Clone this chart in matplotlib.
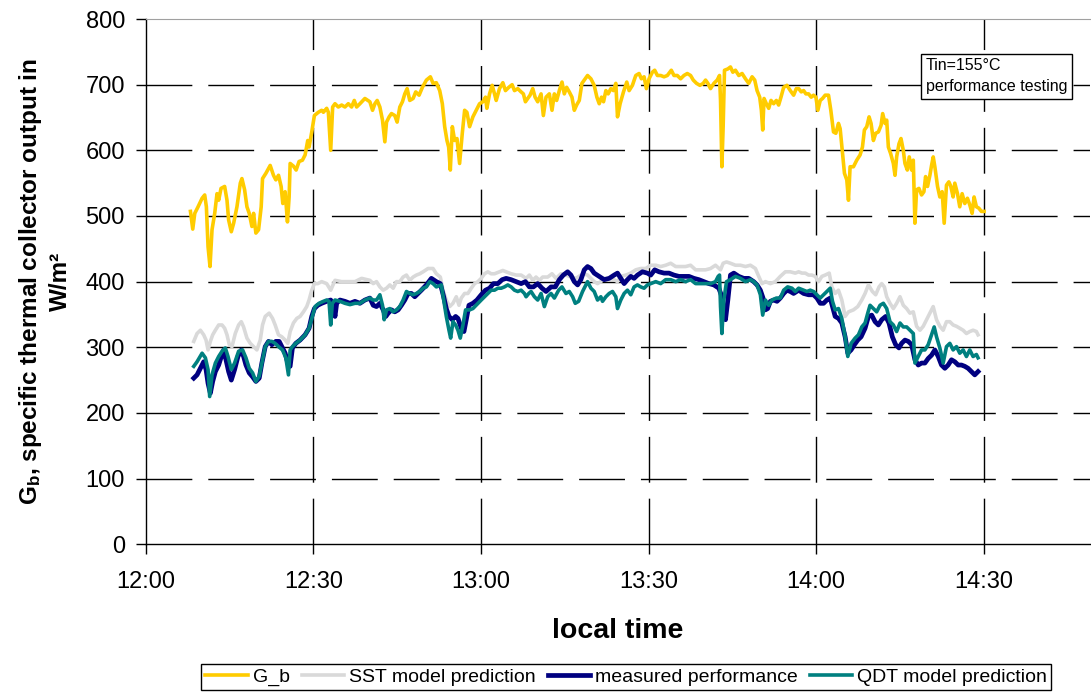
import numpy as np
import matplotlib
matplotlib.use("Agg")
import matplotlib.pyplot as plt

plt.rcParams['font.family'] = ['Liberation Sans', 'DejaVu Sans']
plt.rcParams['mathtext.fontset'] = 'custom'
plt.rcParams['mathtext.rm'] = 'Liberation Sans:bold'
plt.rcParams['mathtext.it'] = 'Liberation Sans:bold'
plt.rcParams['mathtext.default'] = 'rm'
plt.rcParams['lines.scale_dashes'] = False

# time in minutes after 12:00, values in W/m2
t_gb = [8.0, 8.41, 8.77, 9.36, 10.08, 10.55, 10.85, 11.15, 11.50, 11.86,
        12.34, 12.75, 13.05, 13.47, 14.12, 14.54, 14.83, 15.31, 15.73, 16.32,
        16.92, 17.21, 17.69, 18.11, 18.52, 19.0, 19.30, 19.71, 20.19, 20.66,
        20.90, 21.50, 22.27, 22.86, 23.28, 23.76, 24.23, 24.53, 24.95, 25.36,
        25.66, 25.84, 26.43, 26.91, 27.44, 28.04, 28.52, 28.99, 29.23, 29.71,
        30.18, 30.89, 31.49, 31.79, 32.38, 32.68, 33.10, 33.45, 33.87, 34.46,
        35.06, 35.65, 36.25, 36.84, 37.32, 37.74, 38.33, 39.22, 40.11,
        40.59, 41.01, 41.42, 41.90, 42.37, 42.79, 43.09, 43.56, 43.98, 44.57,
        44.99, 45.47, 45.94, 46.36, 46.78, 47.25, 47.85, 48.32, 48.92, 49.51,
        50.23, 50.94, 51.42, 52.01, 52.61, 53.08, 53.50, 53.91, 54.21, 54.51,
        54.87, 55.28, 55.70, 56.17, 56.65, 57.07, 57.48, 57.96, 58.55, 59.15,
        59.74, 60.34, 60.81, 61.05, 61.53, 62.00, 62.42, 62.72, 63.31, 63.91,
        64.38, 64.98, 65.57, 65.99, 66.58, 67.18, 67.59, 67.95, 68.37, 68.78,
        69.26, 69.68, 70.15, 70.75, 71.16, 71.64, 72.23, 72.71, 73.13, 73.54,
        74.02, 74.50, 74.91, 75.33, 75.80, 76.28, 76.70, 77.11, 77.59, 78.06,
        78.48,
        79.07, 79.67, 80.26, 80.74, 81.16, 81.57, 81.93, 82.35, 82.76, 83.24,
        83.71, 84.13, 84.43, 84.90, 85.50, 86.09, 86.51, 87.10, 87.70, 88.29,
        88.71, 89.19, 89.60, 90.08, 90.67, 91.09, 91.57, 92.16, 92.76, 93.35,
        94.06, 94.54, 95.13, 95.73, 96.32, 96.92, 97.51, 97.99, 98.58, 99.18,
        99.77, 100.19, 100.61, 101.08, 101.68, 102.27, 102.69, 102.87, 103.11, 103.34,
        103.58, 104.18, 104.65, 105.07, 105.54, 106.14, 106.73, 107.33, 107.92, 108.52,
        108.99, 109.41, 109.88, 110.18, 110.42, 110.66, 111.07, 111.49, 111.91, 112.38,
        112.86, 113.27, 113.69, 114.17, 114.76, 115.36, 115.95, 116.43, 116.85,
        117.32, 117.74, 118.15, 118.63, 119.10, 119.52, 119.94, 120.29, 120.71, 121.13,
        121.60, 122.20, 122.61, 123.09, 123.51, 123.98, 124.28, 124.70, 125.05, 125.47,
        125.77, 126.06, 126.66, 127.25, 127.85, 128.27, 128.62, 129.04, 129.46, 129.81,
        130.23, 130.65, 131.12, 131.60, 131.89, 132.31, 132.61, 132.91, 133.32, 133.80,
        134.10, 134.39, 134.81, 135.17, 135.58, 135.88, 136.30, 136.65, 137.07, 137.37,
        137.66, 137.96, 138.38, 138.85, 139.27, 139.57, 139.92, 140.34, 140.64, 140.94,
        141.23, 141.71, 142.12, 142.54, 142.90, 143.31, 143.73, 144.09, 144.50, 144.80,
        145.28, 145.69, 146.11, 146.59, 147.06, 147.48, 147.90, 148.25, 148.67, 149.09,
        149.56, 150.04]
g_b = [507, 480, 504, 514, 527, 532, 514, 453, 423, 479,
       504, 534, 524, 542, 545, 524, 494, 476, 489, 514,
       550, 557, 540, 514, 504, 484, 504, 474, 479, 514,
       557, 565, 577, 562, 555, 562, 545, 519, 537, 491,
       529, 580, 576, 570, 583, 585, 593, 615, 605, 628,
       653, 658, 661, 658, 664, 658, 600, 666, 671, 666,
       669, 666, 671, 666, 676, 666, 671, 679, 674,
       661, 671, 676, 666, 646, 613, 643, 651, 656, 653,
       643, 666, 674, 686, 694, 676, 679, 689, 684, 696,
       707, 712, 702, 703, 691, 671, 636, 615, 605, 570,
       636, 615, 618, 580, 626, 661, 658, 636, 651, 661,
       671, 674, 681, 664, 686, 699, 686, 676, 694, 703,
       691, 696, 700, 691, 694, 689, 686, 674, 679, 684,
       694, 681, 674, 686, 653, 681, 686, 661, 686, 676,
       691, 704, 686, 696, 689, 681, 661, 669, 676, 702,
       707,
       714, 709, 699, 681, 671, 681, 674, 691, 686, 694,
       691, 702, 651, 671, 689, 704, 691, 699, 714, 717,
       709, 712, 694, 709, 719, 722, 714, 714, 712, 714,
       722, 714, 714, 709, 714, 717, 714, 707, 702, 699,
       702, 707, 702, 694, 702, 707, 714, 676, 575, 636,
       722, 724, 727, 719, 722, 714, 717, 709, 702, 712,
       707, 691, 681, 661, 631, 679, 671, 664, 676, 671,
       676, 669, 681, 696, 699, 691, 684, 694, 694,
       689, 691, 686, 686, 681, 684, 681, 661, 676, 679,
       684, 684, 661, 628, 626, 641, 633, 595, 565, 555,
       524, 575, 575, 585, 593, 605, 631, 636, 651, 641,
       615, 626, 628, 638, 656, 641, 646, 605, 595, 580,
       562, 590, 610, 618, 600, 580, 570, 590, 570, 585,
       489, 540, 542, 532, 537, 560, 545, 562, 577, 590,
       575, 545, 529, 537, 489, 547, 552, 545, 529, 550,
       534, 514, 534, 519, 527, 517, 504, 529, 514, 512,
       507, 507]

t_sst = [8.59, 9.18, 9.78, 10.37, 10.79, 11.15, 11.56, 11.98, 12.46, 13.05,
         13.65, 14.12, 14.54, 14.95, 15.43, 16.02, 16.62, 17.10, 17.51, 18.11,
         18.70, 19.30, 19.89, 20.49, 20.90, 21.38, 22.09, 22.69, 23.16, 23.76,
         24.35, 24.95, 25.42, 25.84, 26.43, 27.03, 27.62, 28.22, 28.81, 29.23,
         29.71, 30.18, 30.78, 31.49, 32.38, 33.10, 33.87, 35.06, 36.25, 37.44,
         38.63, 40.11,
         40.71, 41.30, 41.90, 42.49, 43.09, 43.68, 44.28, 44.87, 45.47, 46.06,
         46.66, 47.25, 47.85, 48.44, 49.04, 49.63, 50.52, 51.42, 52.01, 52.72,
         53.20, 53.79, 54.39, 54.98, 55.58, 56.06, 56.47, 57.07, 57.66, 58.26,
         58.85, 59.45, 60.04, 60.63, 61.23, 61.82, 62.42, 63.31, 63.91, 64.50,
         65.39, 66.29, 67.18, 68.07, 68.66, 69.26, 69.85, 70.45, 71.04, 71.94,
         72.71, 73.42, 74.31, 75.21, 76.10, 76.99, 77.88, 78.48,
         79.07, 79.67, 80.26, 80.86, 81.45, 82.05, 82.94, 83.83, 84.43, 85.02,
         85.92, 86.81, 87.70, 88.59, 89.48, 90.38, 91.27, 92.16, 93.05, 93.95,
         94.84, 95.73, 96.62, 97.51, 98.41, 99.30, 100.19, 101.08, 101.97, 102.87,
         103.34, 103.94, 104.65, 105.54, 106.44, 107.33, 108.22, 109.11, 109.71, 110.30,
         110.90, 111.79, 112.68, 113.57, 114.47, 115.36, 116.25, 116.85,
         117.44, 118.04, 118.63, 119.22, 119.82, 120.41, 121.01, 121.60, 122.32, 122.79,
         123.39, 123.98, 124.58, 125.17, 125.77, 126.66, 127.43, 128.15, 128.74, 129.34,
         130.05, 130.64, 131.24, 131.72, 132.19, 132.61, 133.20, 133.80, 134.39, 134.99,
         135.58, 136.18, 136.77, 137.37, 137.96, 138.56, 139.15, 139.74, 140.34, 140.93,
         141.53, 142.12, 142.72, 143.31, 143.91, 144.50, 145.10, 145.69, 146.29, 146.88,
         147.48, 148.07, 148.67, 148.96]
sst = [309, 321, 326, 319, 311, 296, 309, 319, 326, 334,
       334, 329, 319, 304, 301, 321, 334, 339, 331, 314,
       306, 301, 296, 311, 334, 347, 352, 344, 334, 319,
       316, 311, 306, 324, 337, 344, 347, 354, 362, 372,
       387, 397, 397, 400, 397, 387, 402, 400, 400, 400,
       405, 402,
       397, 400, 392, 387, 390, 395, 390, 400, 400, 407,
       410, 402, 407, 410, 412, 415, 420, 420, 412, 407,
       387, 372, 362, 367, 377, 364, 375, 382, 382, 390,
       397, 400, 405, 412, 415, 412, 412, 415, 417, 415,
       412, 410, 410, 405, 410, 402, 407, 402, 407, 407,
       412, 405, 412, 410, 407, 405, 410, 412,
       410, 405, 400, 397, 400, 405, 405, 403, 400, 408,
       410, 413, 418, 420, 420, 425, 425, 423, 425, 428,
       423, 423, 423, 425, 418, 418, 418, 420, 425, 418,
       428, 430, 428, 425, 425, 423, 425, 420, 408, 397,
       400, 397, 400, 408, 415, 415, 413, 415,
       413, 413, 410, 410, 408, 400, 408, 410, 413, 392,
       382, 387, 372, 347, 354, 357, 362, 372, 382, 395,
       385, 380, 392, 397, 392, 377, 367, 359, 367, 377,
       364, 359, 352, 354, 332, 326, 332, 342, 352, 362,
       342, 332, 326, 339, 339, 334, 332, 329, 326, 321,
       324, 326, 324, 319]

t_meas = [8.59, 9.18, 9.78, 10.37, 10.79, 11.15, 11.56, 11.98, 12.46, 13.05,
          13.53, 13.94, 14.36, 14.83, 15.31, 15.90, 16.50, 17.10, 17.51, 17.93,
          18.52, 19.12, 19.71, 20.31, 20.78, 21.38, 21.97, 22.57, 23.28, 23.88,
          24.35, 24.95, 25.42, 25.84, 26.25, 26.85, 27.62, 28.52, 29.23, 29.71,
          30.18, 30.78, 31.49, 32.38, 33.10, 33.57, 33.87, 34.17, 34.76, 35.65,
          36.55, 37.44, 38.33, 39.22, 40.11,
          40.71, 41.30, 41.90, 42.49, 42.97, 43.39, 43.98, 44.57, 45.17, 45.76,
          46.36, 46.95, 47.55, 48.14, 48.74, 49.33, 50.23, 51.12, 52.01, 52.72,
          53.32, 53.79, 54.27, 54.86, 55.46, 55.88, 56.47, 56.95, 57.36, 57.84,
          58.55, 59.27, 60.04, 60.81, 61.53, 62.24, 63.01, 63.79, 64.50, 65.39,
          66.29, 67.18, 67.95, 68.66, 69.38, 70.15, 70.92, 71.64, 72.53, 73.30,
          74.02, 74.73, 75.50, 76.10, 76.69, 77.29, 77.88, 78.48,
          79.07, 79.67, 80.26, 81.16, 82.05, 82.94, 83.83, 84.43, 85.02, 85.62,
          86.21, 86.81, 87.40, 88.00, 88.89, 89.78, 90.38, 91.09, 91.86, 92.76,
          93.65, 94.54, 95.43, 96.32, 97.22, 98.11, 99.00, 99.89, 100.79, 101.68,
          102.57, 102.99, 103.34, 103.76, 104.18, 104.65, 105.25, 106.14, 107.03, 107.92,
          108.81, 109.41, 110.00, 110.48, 110.90, 111.31, 111.79, 112.38, 112.98, 113.57,
          114.17, 114.76, 115.36, 115.95, 116.85,
          117.74, 118.63, 119.52, 120.12, 120.71, 121.31, 121.90, 122.50, 122.91, 123.39,
          123.98, 124.58, 125.17, 125.65, 126.24, 126.84, 127.43, 128.03, 128.74, 129.34,
          129.93, 130.53, 131.12, 131.72, 132.43, 133.02, 133.62, 134.21, 134.81, 135.28,
          135.88, 136.47, 137.07, 137.66, 138.26, 138.85, 139.45, 140.04, 140.64, 141.23,
          141.83, 142.42, 143.02, 143.61, 144.21, 144.80, 145.40, 145.99, 146.59, 147.18,
          147.77, 148.37, 148.96]
measured = [253, 258, 268, 278, 266, 245, 230, 248, 263, 273,
            286, 296, 281, 263, 250, 266, 286, 296, 286, 273,
            261, 255, 248, 253, 276, 301, 309, 304, 309, 309,
            301, 291, 276, 271, 299, 306, 311, 319, 329, 347,
            359, 364, 367, 370, 372, 364, 347, 367, 372, 370,
            367, 370, 367, 372, 375,
            364, 362, 367, 357, 347, 352, 357, 354, 357, 364,
            372, 382, 382, 377, 382, 387, 395, 405, 400, 397,
            377, 359, 347, 342, 347, 344, 329, 324, 342, 364,
            367, 372, 380, 387, 390, 397, 397, 403, 405, 403,
            400, 397, 400, 392, 392, 397, 390, 385, 392, 392,
            403, 410, 415, 410, 400, 395, 403, 418,
            423, 420, 413, 408, 403, 405, 410, 413, 405, 397,
            403, 408, 405, 410, 415, 413, 410, 418, 415, 413,
            413, 410, 408, 408, 408, 405, 403, 400, 397, 395,
            390, 380, 359, 342, 372, 410, 413, 408, 405, 405,
            400, 395, 387, 375, 357, 359, 370, 372, 370, 375,
            382, 387, 385, 382, 387,
            382, 380, 380, 375, 367, 367, 372, 375, 362, 347,
            344, 337, 316, 291, 296, 304, 311, 316, 329, 347,
            349, 339, 334, 342, 347, 337, 316, 304, 299, 306,
            311, 309, 304, 281, 273, 276, 276, 283, 288, 296,
            286, 273, 268, 273, 281, 278, 273, 273, 271, 268,
            263, 258, 263]

t_qdt = [8.59, 9.18, 10.08, 10.67, 11.15, 11.44, 11.86, 12.46, 13.05, 13.65,
         14.24, 14.72, 15.31, 15.90, 16.62, 17.33, 17.93, 18.52, 19.12, 19.71,
         20.31, 20.78, 21.38, 21.97, 22.57, 23.16, 23.76, 24.47, 25.07, 25.54,
         25.84, 26.25, 26.85, 27.62, 28.52, 29.23, 29.82, 30.30, 31.01, 31.79,
         32.38, 32.80, 33.10, 33.39, 33.87, 34.76, 35.65, 36.55, 37.44, 38.33,
         39.22, 40.11,
         40.71, 41.30, 41.90, 42.37, 42.67, 43.09, 43.68, 44.28, 44.87, 45.47,
         46.06, 46.66, 47.25, 47.85, 48.44, 49.04, 49.63, 50.23, 50.82, 51.42,
         52.01, 52.90, 53.32, 53.79, 54.27, 54.57, 54.98, 55.46, 55.88, 56.29,
         56.77, 57.24, 57.96, 58.55, 59.45, 60.04, 60.63, 61.23, 61.82, 62.42,
         63.01, 63.61, 64.20, 64.80, 65.39, 65.99, 66.58, 67.18, 67.77, 68.07,
         68.55, 68.96, 69.56, 70.15, 70.75, 71.34, 71.94, 72.53, 73.13, 73.90,
         74.49, 75.21, 75.80, 76.40, 76.87, 77.47, 78.18, 78.48,
         79.07, 79.67, 80.26, 80.86, 81.45, 81.75, 82.35, 82.94, 83.54, 84.13,
         84.43, 85.02, 85.62, 86.21, 86.81, 87.40, 88.00, 88.59, 89.19, 89.78,
         90.38, 91.27, 92.16, 93.05, 93.95, 94.84, 95.73, 96.62, 97.51, 98.41,
         99.30, 100.19, 101.08, 101.97, 102.45, 102.69, 102.87, 103.11, 103.46, 103.94,
         104.65, 105.54, 106.44, 107.33, 108.22, 108.81, 109.41, 110.00, 110.42, 110.90,
         111.49, 112.09, 112.86, 113.57, 114.17, 114.88, 115.66, 116.25, 116.85,
         117.74, 118.33, 118.93, 119.52, 120.12, 120.71, 121.31, 121.90, 122.50, 122.91,
         123.39, 123.98, 124.58, 125.17, 125.65, 126.24, 126.96, 127.55, 128.15, 128.74,
         129.22, 129.63, 130.23, 130.82, 131.42, 132.01, 132.61, 133.20, 133.80, 134.39,
         134.99, 135.58, 136.18, 136.77, 137.37, 137.66, 138.26, 138.85, 139.45, 140.04,
         140.64, 141.11, 141.53, 142.12, 142.72, 143.31, 143.91, 144.50, 145.10, 145.69,
         146.29, 146.88, 147.48, 148.07, 148.67, 148.96]
qdt = [271, 278, 291, 284, 266, 225, 258, 276, 286, 294,
       299, 286, 266, 276, 294, 296, 284, 268, 261, 248,
       256, 276, 301, 309, 309, 306, 301, 296, 284, 258,
       296, 301, 306, 311, 319, 329, 347, 362, 367, 370,
       372, 370, 334, 367, 372, 370, 367, 365, 367, 367,
       372, 375,
       372, 372, 380, 364, 342, 357, 359, 354, 357, 362,
       372, 385, 382, 380, 382, 385, 390, 392, 400, 397,
       392, 395, 372, 347, 326, 314, 339, 334, 326, 314,
       334, 357, 357, 359, 367, 372, 377, 382, 387, 387,
       390, 390, 392, 395, 392, 387, 385, 387, 382, 377,
       382, 385, 377, 372, 382, 362, 377, 382, 375, 387,
       392, 382, 385, 377, 367, 370, 385, 390,
       400, 390, 385, 372, 377, 370, 377, 382, 385, 377,
       359, 372, 382, 387, 380, 392, 395, 392, 390, 395,
       397, 400, 397, 403, 403, 400, 403, 400, 403, 397,
       397, 397, 397, 400, 408, 410, 362, 321, 372, 400,
       403, 408, 405, 400, 403, 400, 395, 380, 349, 372,
       364, 372, 375, 375, 387, 392, 390, 385, 390,
       387, 385, 387, 385, 380, 375, 380, 385, 390, 370,
       357, 359, 344, 316, 286, 306, 314, 319, 331, 337,
       352, 364, 359, 354, 364, 367, 359, 339, 334, 324,
       337, 331, 331, 326, 321, 276, 286, 296, 296, 304,
       319, 331, 316, 299, 276, 301, 306, 296, 301, 291,
       296, 286, 296, 286, 289, 284]

tick_min = [0, 30, 60, 90, 120, 150]
tick_labels = ['12:00', '12:30', '13:00', '13:30', '14:00', '14:30']

fig = plt.figure(figsize=(10.91, 6.92), dpi=100)
ax = fig.add_axes([0.1336, 0.2135, 0.8655, 0.759])

ax.plot(t_gb, g_b, color='#FFCC00', lw=2.6, label='G_b')
ax.plot(t_sst, sst, color='#D9D9D9', lw=2.6, label='SST model prediction')
ax.plot(t_meas, measured, color='#000080', lw=3.4, label='measured performance')
ax.plot(t_qdt, qdt, color='#008080', lw=2.6, label='QDT model prediction')

ax.set_xlim(0, 169)
ax.set_ylim(0, 800)
ax.set_xticks(tick_min)
ax.set_xticklabels(tick_labels)
ax.set_yticks(np.arange(0, 801, 100))

dash = (0, (33, 11.5))
for v in range(100, 800, 100):
    ax.axhline(v, color='black', lw=1.0, linestyle=dash, zorder=0)
for m in tick_min[1:]:
    ax.axvline(m, color='black', lw=1.0, linestyle=dash, zorder=0)

ax.spines['right'].set_visible(False)
ax.spines['top'].set_color('#A0A0A0')
ax.spines['left'].set_linewidth(1.0)
ax.spines['bottom'].set_linewidth(1.0)
ax.tick_params(axis='both', direction='out', length=7, width=1.0, labelsize=17)
ax.tick_params(axis='x', pad=12)
ax.tick_params(axis='y', pad=8)

ax.set_xlabel('local time', fontsize=20.5, fontweight='bold', labelpad=18)
ax.set_ylabel('$G_b$, specific thermal collector output in\nW/m²',
              fontsize=17.5, fontweight='bold', labelpad=10, linespacing=1.25)

ax.text(0.826, 0.925, 'Tin=155°C\nperformance testing', transform=ax.transAxes,
        fontsize=11.5, va='top', ha='left', linespacing=1.45,
        bbox=dict(boxstyle='square,pad=0.3', facecolor='white', edgecolor='black', lw=1.0))

fig.legend(loc='upper center', bbox_to_anchor=(0.574, 0.04), ncol=4, fontsize=14,
           frameon=True, fancybox=False, edgecolor='black', framealpha=1,
           handlelength=2.2, handletextpad=0.25, columnspacing=0.6, borderpad=0.2,
           borderaxespad=0)

fig.savefig('out.png', dpi=100)
